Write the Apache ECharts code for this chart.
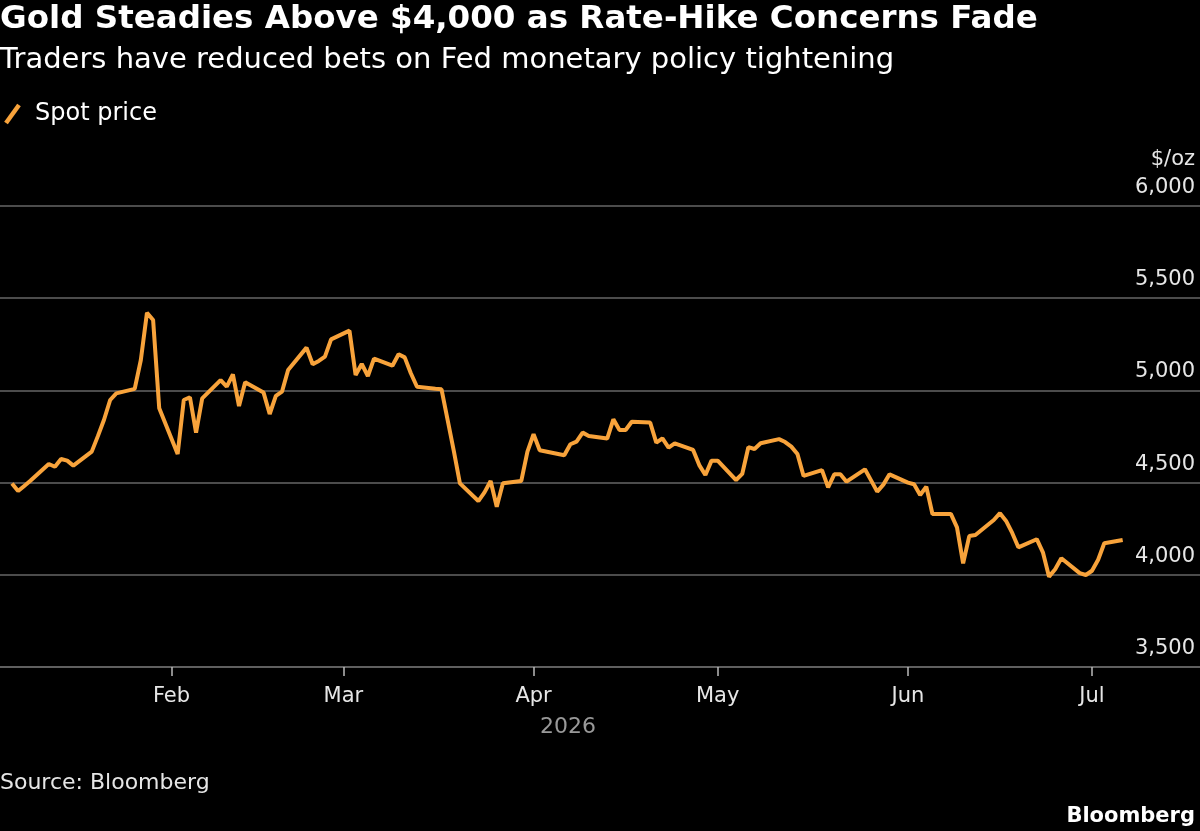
<!DOCTYPE html>
<html>
<head>
<meta charset="utf-8">
<script src="https://cdn.jsdelivr.net/npm/echarts@6/dist/echarts.min.js"></script>
<style>
  html, body { margin: 0; padding: 0; background: #000; }
  #chart { width: 1200px; height: 831px; }
</style>
</head>
<body>
<div id="chart"></div>
<script>
// Spot gold, business days (2026)
const dates = [
  '01-06', '01-07', '01-08', '01-09', '01-12', '01-13', '01-14', '01-15', '01-16',
  '01-19', '01-20', '01-21', '01-22', '01-23', '01-26', '01-27', '01-28', '01-29', '01-30',
  '02-02', '02-03', '02-04', '02-05', '02-06', '02-09', '02-10', '02-11', '02-12', '02-13',
  '02-16', '02-17', '02-18', '02-19', '02-20', '02-23', '02-24', '02-25', '02-26', '02-27',
  '03-02', '03-03', '03-04', '03-05', '03-06', '03-09', '03-10', '03-11', '03-12', '03-13',
  '03-16', '03-17', '03-18', '03-19', '03-20', '03-23', '03-24', '03-25', '03-26', '03-27',
  '03-30', '03-31', '04-01', '04-02', '04-06', '04-07', '04-08', '04-09', '04-10',
  '04-13', '04-14', '04-15', '04-16', '04-17', '04-20', '04-21', '04-22', '04-23', '04-24',
  '04-27', '04-28', '04-29', '04-30', '05-01', '05-04', '05-05', '05-06', '05-07', '05-08',
  '05-11', '05-12', '05-13', '05-14', '05-15', '05-18', '05-19', '05-20', '05-21', '05-22',
  '05-25', '05-26', '05-27', '05-28', '05-29', '06-01', '06-02', '06-03', '06-04', '06-05',
  '06-08', '06-09', '06-10', '06-11', '06-12', '06-15', '06-16', '06-17', '06-18', '06-19',
  '06-22', '06-23', '06-24', '06-25', '06-26', '06-29', '06-30', '07-01', '07-02', '07-03',
  '07-06'
];
const spotPrice = [
  4495, 4454, 4482, 4510, 4601, 4586, 4628, 4619, 4592,
  4668, 4752, 4841, 4948, 4984, 5008, 5165, 5421, 5382, 4903,
  4655, 4948, 4963, 4771, 4957, 5056, 5020, 5087, 4915, 5044,
  4988, 4872, 4970, 4993, 5111, 5232, 5142, 5160, 5183, 5277,
  5324, 5083, 5143, 5078, 5172, 5134, 5196, 5179, 5093, 5020,
  5009, 5006, 4839, 4672, 4496, 4400, 4447, 4509, 4369, 4496,
  4509, 4668, 4762, 4675, 4648, 4708, 4722, 4771, 4753,
  4739, 4843, 4785, 4785, 4830, 4826, 4717, 4740, 4690, 4713,
  4677, 4595, 4541, 4619, 4619, 4514, 4547, 4692, 4682, 4713,
  4736, 4720, 4695, 4655, 4536, 4568, 4474, 4545, 4545, 4505,
  4572, 4512, 4451, 4489, 4545, 4500, 4491, 4433, 4478, 4330,
  4330, 4257, 4062, 4210, 4216, 4297, 4334, 4292, 4227, 4149,
  4193, 4122, 3990, 4030, 4090, 4009, 3999, 4022, 4082, 4171,
  4189
];
const monthTicks = ['02-01', '03-01', '04-01', '05-01', '06-01', '07-01'];
const monthLabels = ['Feb', 'Mar', 'Apr', 'May', 'Jun', 'Jul'];

const ts = md => {
  const [m, d] = md.split('-').map(Number);
  return Date.UTC(2026, m - 1, d);
};
const DAY = 86400000;
const seriesData = dates.map((d, i) => [ts(d), spotPrice[i]]);
const tickTs = monthTicks.map(ts);

const FONT = 'DejaVu Sans';
const ORANGE = '#f8a33b';
const GRID = '#666666';

const chart = echarts.init(document.getElementById('chart'));
chart.setOption({
  backgroundColor: '#000',
  animation: false,
  textStyle: { fontFamily: FONT },
  grid: { left: 0, right: 0, top: 206, bottom: 164 },
  xAxis: {
    type: 'value',
    min: ts('01-04') + 0.05 * DAY,
    max: ts('07-18') + 0.6 * DAY,
    axisLine: { show: true, lineStyle: { color: GRID, width: 1.5 } },
    axisTick: {
      show: true, customValues: tickTs, length: 9, inside: false,
      lineStyle: { color: '#bbbbbb', width: 1.5 }
    },
    axisLabel: {
      customValues: tickTs,
      color: '#e6e6e6', fontSize: 21, fontFamily: FONT, margin: 19,
      formatter: v => monthLabels[tickTs.indexOf(v)] || ''
    },
    splitLine: { show: false }
  },
  yAxis: {
    type: 'value',
    position: 'right',
    min: 3500, max: 6000, interval: 500,
    axisLine: { show: false },
    axisTick: { show: false },
    axisLabel: {
      inside: true,
      verticalAlign: 'bottom',
      color: '#e6e6e6', fontSize: 21, fontFamily: FONT,
      margin: 5, padding: [0, 0, 8, 0],
      formatter: v => v.toLocaleString('en-US')
    },
    splitLine: { show: true, lineStyle: { color: GRID, width: 1.5 } }
  },
  series: [{
    name: 'Spot price',
    type: 'line',
    data: seriesData,
    showSymbol: false,
    lineStyle: { color: ORANGE, width: 4 },
    itemStyle: { color: ORANGE }
  }],
  graphic: [
    { type: 'text', left: 0, top: 3, style: { text: 'Gold Steadies Above $4,000 as Rate-Hike Concerns Fade', fill: '#fff', font: 'bold 32.5px "DejaVu Sans"' } },
    { type: 'text', left: 0, top: 46, style: { text: 'Traders have reduced bets on Fed monetary policy tightening', fill: '#fff', font: '29px "DejaVu Sans"' } },
    { type: 'line', shape: { x1: 6, y1: 123, x2: 19, y2: 105 }, style: { stroke: ORANGE, lineWidth: 4.5 } },
    { type: 'text', left: 35, top: 102, style: { text: 'Spot price', fill: '#fff', font: '24px "DejaVu Sans"' } },
    { type: 'text', right: 5, top: 149, style: { text: '$/oz', fill: '#e6e6e6', font: '21px "DejaVu Sans"', align: 'right' } },
    { type: 'text', left: 540, top: 716, style: { text: '2026', fill: '#999999', font: '22px "DejaVu Sans"' } },
    { type: 'text', left: 0, top: 772, style: { text: 'Source: Bloomberg', fill: '#e6e6e6', font: '22px "DejaVu Sans"' } },
    { type: 'text', right: 5, top: 806, style: { text: 'Bloomberg', fill: '#fff', font: 'bold 21px "DejaVu Sans"', align: 'right' } }
  ]
});
</script>
</body>
</html>
